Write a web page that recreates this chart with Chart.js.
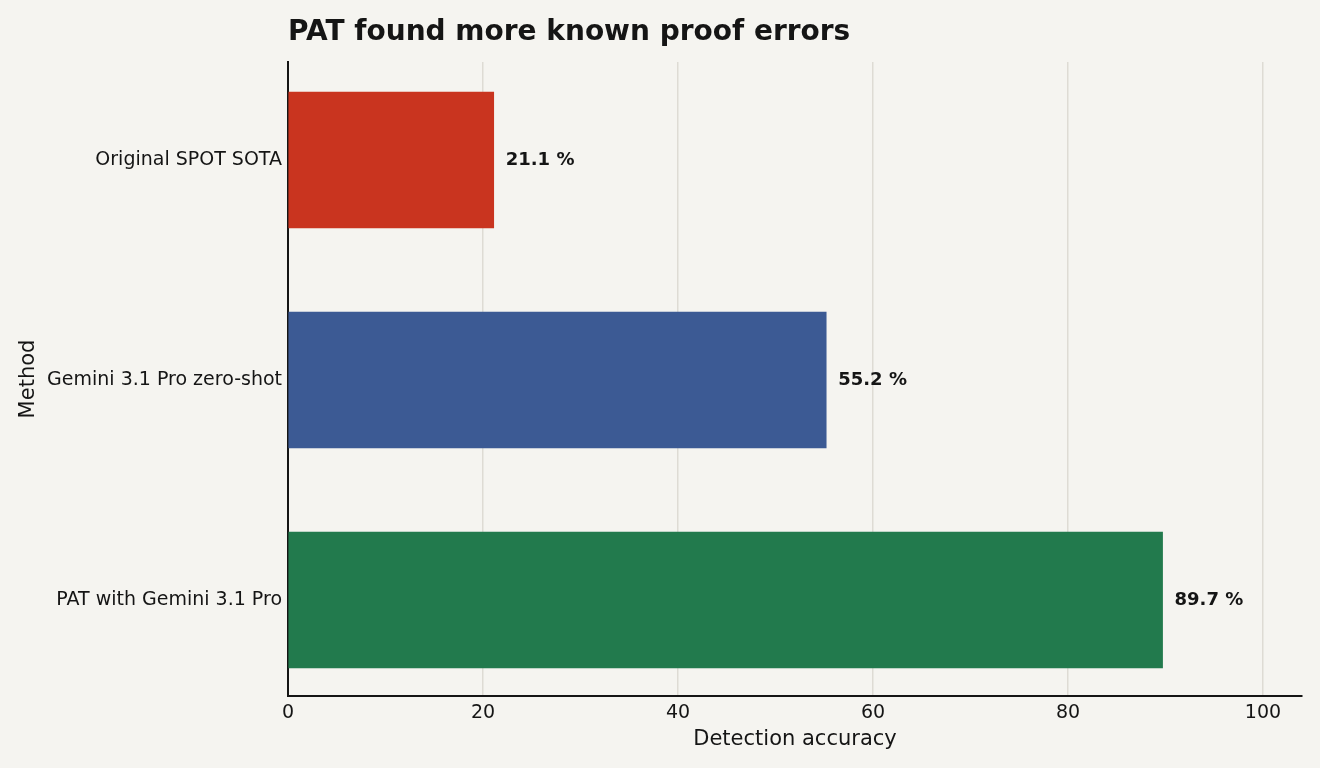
<!DOCTYPE html>
<html>
<head>
<meta charset="utf-8">
<script src="https://cdn.jsdelivr.net/npm/chart.js@4"></script>
<style>
html,body{margin:0;padding:0;background:#f5f4f0;}
#wrap{width:1320px;height:768px;}
</style>
</head>
<body>
<div id="wrap"><canvas id="grafico" width="1320" height="768"></canvas></div>
<script>
const metodos = ['Original SPOT SOTA', 'Gemini 3.1 Pro zero-shot', 'PAT with Gemini 3.1 Pro'];
const acuracia = [21.1, 55.2, 89.7];
const cores = ['#c9341f', '#3c5a94', '#227a4d'];
const titulo = 'PAT found more known proof errors';

const fonte = "'DejaVu Sans', sans-serif";

const rotulos = {
id:'rotulos',
afterDatasetsDraw(chart){
const ctx = chart.ctx;
const meta = chart.getDatasetMeta(0);
ctx.save();
ctx.fillStyle = '#151515';
ctx.font = 'bold 18px ' + fonte;
ctx.textBaseline = 'middle';
ctx.textAlign = 'left';
meta.data.forEach((bar, i) => {
ctx.fillText(acuracia[i].toFixed(1) + ' %', bar.x + 12, bar.y);
});
ctx.font = 'bold 28px ' + fonte;
ctx.textBaseline = 'alphabetic';
ctx.fillText(titulo, chart.chartArea.left, 40);
ctx.restore();
}
};

new Chart(document.getElementById('grafico'), {
type:'bar',
data:{
datasets:[{
data: acuracia.map((v, i) => ({x: v, y: i})),
backgroundColor: cores,
barThickness: 136,
borderWidth: 0
}]
},
options:{
indexAxis:'y',
responsive:false,
animation:false,
layout:{padding:{top:62, right:18, left:0, bottom:0}},
plugins:{
legend:{display:false},
tooltip:{enabled:false},
title:{display:false}
},
scales:{
x:{
type:'linear',
min:0,
max:104,
ticks:{
stepSize:20,
color:'#151515',
font:{family:fonte, size:19},
padding:6,
callback:v => (v % 20 === 0 ? v : '')
},
afterBuildTicks:s => { s.ticks = [0,20,40,60,80,100].map(v => ({value:v})); },
grid:{color:'#dedbd4', lineWidth:1.5, drawTicks:false},
border:{display:true, color:'#151515', width:2},
title:{display:true, text:'Detection accuracy', color:'#151515', font:{family:fonte, size:21}, padding:{top:0, bottom:16}},
afterFit:s => { s.height = 72; }
},
y:{
type:'linear',
reverse:true,
offset:false,
min:-0.4455,
max:2.4364,
afterBuildTicks:s => { s.ticks = [0,1,2].map(v => ({value:v})); },
ticks:{
color:'#151515',
font:{family:fonte, size:19},
padding:6,
autoSkip:false,
callback:v => metodos[v] || ''
},
grid:{display:false, drawTicks:false, offset:false},
border:{display:true, color:'#151515', width:2},
title:{display:true, text:'Method', color:'#151515', font:{family:fonte, size:21}, padding:{top:16, bottom:0}},
afterFit:s => { s.width = 288; }
}
}
},
plugins:[rotulos]
});
</script>
</body>
</html>
